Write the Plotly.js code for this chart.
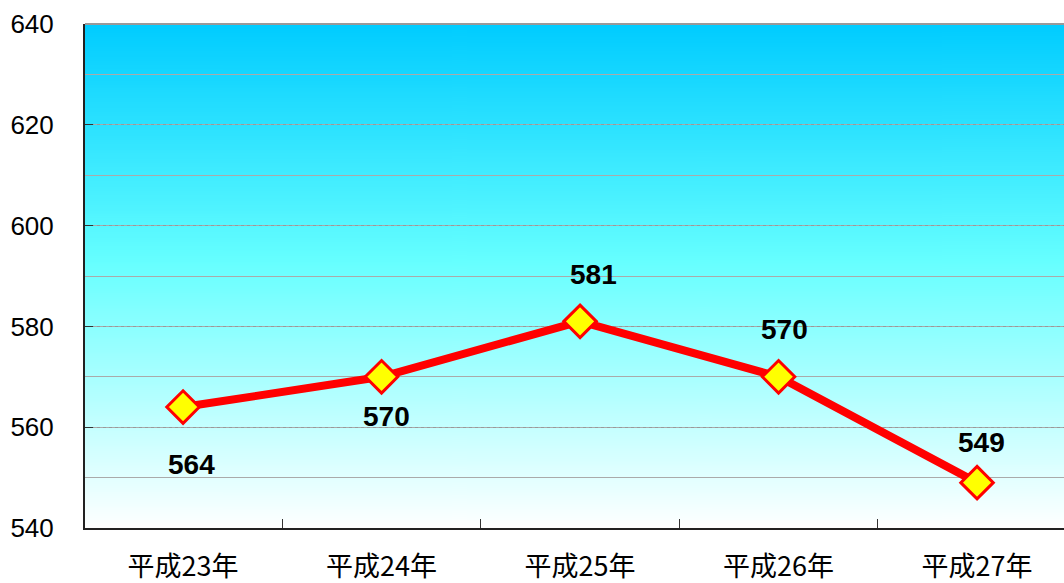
<!DOCTYPE html>
<html>
<head>
<meta charset="utf-8">
<script src="https://cdn.plot.ly/plotly-3.0.1.min.js"></script>
<style>
  html, body { margin: 0; padding: 0; background: #ffffff; }
  #chart { width: 1064px; height: 583px; }
</style>
</head>
<body>
<div id="chart"></div>
<script>
// ---- data ----
const categories = ['平成23年', '平成24年', '平成25年', '平成26年', '平成27年'];
const values = [564, 570, 581, 570, 549];
const yTickValues = [540, 560, 580, 600, 620, 640];

// ---- label placement (style only) ----
const labelYShift = [-57, -40, 47, 47, 40];
const labelXShift = [8, 5, 13, 6, 4];

// gradient background image
function gradientURL() {
  const c = document.createElement('canvas');
  c.width = 4; c.height = 512;
  const g = c.getContext('2d');
  const grd = g.createLinearGradient(0, 0, 0, 512);
  grd.addColorStop(0, '#00CCFF');
  grd.addColorStop(0.47, '#66FFFF');
  grd.addColorStop(1, '#FFFFFF');
  g.fillStyle = grd;
  g.fillRect(0, 0, 4, 512);
  return c.toDataURL('image/png');
}

const trace = {
  type: 'scatter',
  mode: 'lines+markers',
  x: categories,
  y: values,
  line: { color: '#FF0000', width: 8 },
  marker: {
    symbol: 'diamond',
    size: 25,
    color: '#FFFF00',
    line: { color: '#FF0000', width: 3 }
  },
  hoverinfo: 'x+y',
  cliponaxis: false
};

const annotations = values.map((v, i) => ({
  x: categories[i],
  y: v,
  xref: 'x',
  yref: 'y',
  text: String(v),
  showarrow: false,
  xshift: labelXShift[i],
  yshift: labelYShift[i],
  font: { family: 'Liberation Sans, Arial, sans-serif', size: 28, color: '#000000', weight: 'bold' }
}));

const layout = {
  width: 1064,
  height: 583,
  margin: { l: 85, r: 0, t: 24, b: 55 },
  paper_bgcolor: '#FFFFFF',
  plot_bgcolor: 'rgba(0,0,0,0)',
  showlegend: false,
  images: [{
    source: gradientURL(),
    xref: 'paper', yref: 'paper',
    x: 0, y: 1, sizex: 1, sizey: 1,
    xanchor: 'left', yanchor: 'top',
    sizing: 'stretch',
    layer: 'below'
  }],
  xaxis: {
    type: 'category',
    range: [-0.494, 4.438],
    tickson: 'boundaries',
    ticks: 'inside',
    ticklen: 9,
    tickwidth: 1,
    tickcolor: '#333333',
    showgrid: false,
    showline: true,
    linecolor: '#222222',
    linewidth: 2,
    zeroline: false,
    ticklabelstandoff: 14,
    tickfont: { family: 'Noto Sans CJK JP, sans-serif', size: 27, color: '#000000' },
    fixedrange: true
  },
  yaxis: {
    range: [540, 640],
    tickvals: yTickValues,
    ticktext: yTickValues.map(String),
    ticks: 'inside',
    ticklen: 8,
    tickwidth: 1,
    tickcolor: '#333333',
    showline: true,
    linecolor: '#222222',
    linewidth: 2,
    zeroline: false,
    showgrid: true,
    gridcolor: '#999999',
    gridwidth: 1,
    griddash: 'dot',
    minor: {
      dtick: 10,
      tick0: 540,
      showgrid: true,
      gridcolor: '#AAAAAA',
      gridwidth: 1,
      griddash: 'solid',
      ticks: ''
    },
    ticklabelstandoff: 24,
    tickfont: { family: 'Liberation Sans, Arial, sans-serif', size: 26, color: '#000000' },
    fixedrange: true
  },
  shapes: [{
    type: 'line', xref: 'paper', yref: 'paper',
    x0: 0, x1: 1, y0: 1, y1: 1,
    line: { color: '#999999', width: 2 }
  }],
  annotations: annotations
};

Plotly.newPlot('chart', [trace], layout, { displayModeBar: false, staticPlot: true });
</script>
</body>
</html>
